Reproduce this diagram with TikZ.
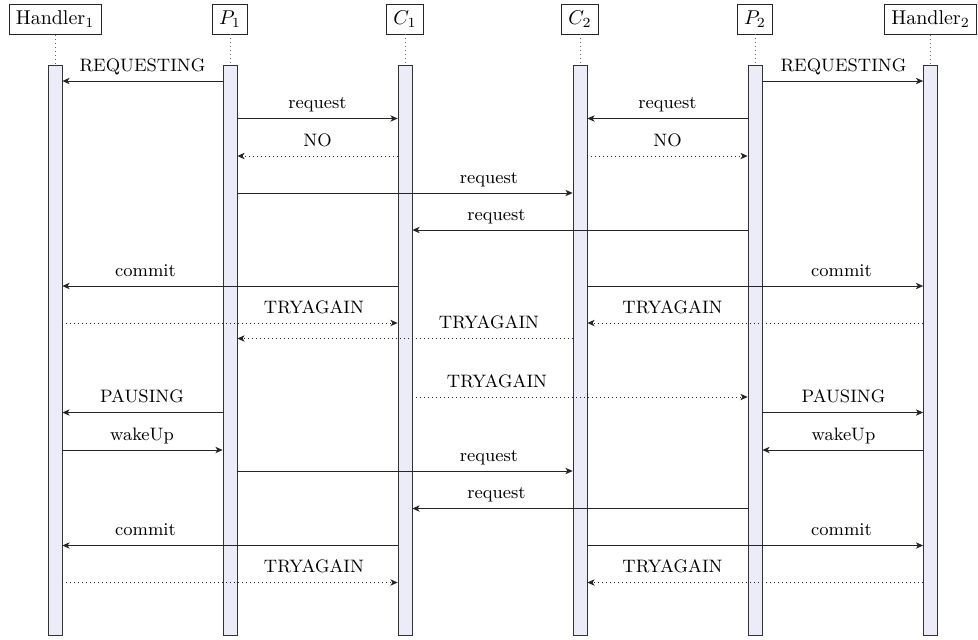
\documentclass[tikz,border=0pt]{standalone}
\usetikzlibrary{arrows.meta}
\definecolor{barfill}{RGB}{236,236,248}
\tikzset{
  actor/.style={draw=black!85, inner sep=3.33pt, font=\normalsize},
  lifeline/.style={black!60, dash pattern=on 0.4pt off 1.6pt},
  callbar/.style={draw=black!80, fill=barfill, minimum width=7pt, minimum height=285.35pt, inner sep=0pt},
  msg/.style={draw=black!85, -{Stealth[length=3.6pt,width=3.2pt,inset=1pt]}},
  reply/.style={msg, dash pattern=on 0.4pt off 1.6pt},
  lbl/.style={font=\small, inner sep=0pt, anchor=base}
}
\begin{document}
\begin{tikzpicture}[x=0.5pt, y=-0.5pt]
\useasboundingbox (0,0) rectangle (978,639);

% participants
\node[actor] (H1) at (55,19)    {Handler$_1$};
\node[actor] (P1) at (230,19)   {$P_1$};
\node[actor] (C1) at (405,19)   {$C_1$};
\node[actor] (C2) at (580,19)   {$C_2$};
\node[actor] (P2) at (755,19)   {$P_2$};
\node[actor] (H2) at (930.5,19) {Handler$_2$};

% activation bars
\node[callbar] (bH1) at (55,350.35)    {};
\node[callbar] (bP1) at (230,350.35)   {};
\node[callbar] (bC1) at (405,350.35)   {};
\node[callbar] (bC2) at (580,350.35)   {};
\node[callbar] (bP2) at (755,350.35)   {};
\node[callbar] (bH2) at (930.5,350.35) {};

% lifelines between header and bar
\foreach \h in {H1,P1,C1,C2,P2,H2}
  \draw[lifeline] (\h) -- (b\h);

% messages: from / to / y / label / label x / style
\foreach \a/\b/\y/\t/\lx/\s in {
  bP1.west/bH1.east/81/REQUESTING/142.5/msg,
  bP2.east/bH2.west/81/REQUESTING/843.5/msg,
  bP1.east/bC1.west/118.5/request/317.5/msg,
  bP2.west/bC2.east/118.5/request/667.5/msg,
  bC1.west/bP1.east/156/NO/317.5/reply,
  bC2.east/bP2.west/156/NO/667.5/reply,
  bP1.east/bC2.west/193/request/489/msg,
  bP2.west/bC1.east/230/request/496.5/msg,
  bC1.west/bH1.east/286/commit/145.5/msg,
  bC2.east/bH2.west/286/commit/841.5/msg,
  bH1.east/bC1.west/323/TRYAGAIN/314/reply,
  bH2.west/bC2.east/323/TRYAGAIN/672.5/reply,
  bC2.west/bP1.east/338.5/TRYAGAIN/489/reply,
  bC1.east/bP2.west/397/TRYAGAIN/497/reply,
  bP1.west/bH1.east/412.5/PAUSING/142/msg,
  bP2.east/bH2.west/412.5/PAUSING/843.5/msg,
  bH1.east/bP1.west/450/wakeUp/142/msg,
  bH2.west/bP2.east/450/wakeUp/843.5/msg,
  bP1.east/bC2.west/471/request/489/msg,
  bP2.west/bC1.east/508.5/request/496.5/msg,
  bC1.west/bH1.east/545.5/commit/145.5/msg,
  bC2.east/bH2.west/545.5/commit/841.5/msg,
  bH1.east/bC1.west/582.5/TRYAGAIN/314/reply,
  bH2.west/bC2.east/582.5/TRYAGAIN/672.5/reply}
{
  \draw[\s] (\a |- 0,\y) -- (\b |- 0,\y);
  \node[lbl] at (\lx,\y-10) {\t};
}
\end{tikzpicture}
\end{document}
